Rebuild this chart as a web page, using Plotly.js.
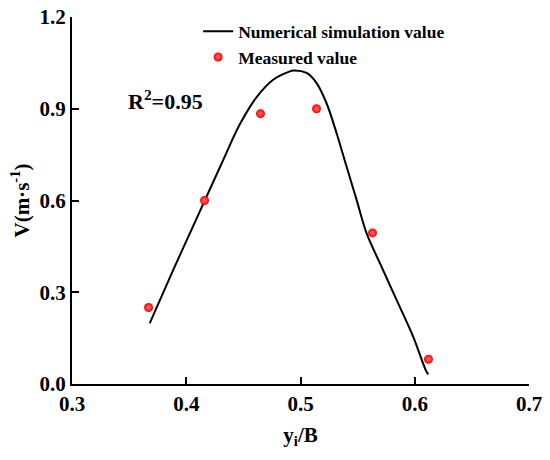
<!DOCTYPE html>
<html>
<head>
<meta charset="utf-8">
<script src="https://cdn.plot.ly/plotly-3.0.1.min.js"></script>
<style>html,body{margin:0;padding:0;background:#fff;}#chart{width:550px;height:460px;}</style>
</head>
<body>
<div id="chart"></div>
<script>
// Numerical simulation curve
const simX = [0.368, 0.3886, 0.4032, 0.4178, 0.4324, 0.4470, 0.4616, 0.4761, 0.4907, 0.4936, 0.5053, 0.5141, 0.5228, 0.5316, 0.5403, 0.5491, 0.5578, 0.5695, 0.5841, 0.5986, 0.6103, 0.612];
const simY = [0.198, 0.373, 0.493, 0.613, 0.733, 0.850, 0.938, 0.995, 1.022, 1.025, 1.017, 0.984, 0.918, 0.820, 0.711, 0.602, 0.493, 0.395, 0.275, 0.155, 0.040, 0.032];
// Measured values
const measX = [0.367, 0.416, 0.465, 0.514, 0.563, 0.612];
const measY = [0.25, 0.60, 0.884, 0.900, 0.494, 0.081];
const xTicks = [0.3, 0.4, 0.5, 0.6, 0.7];
const yTicks = [0.0, 0.3, 0.6, 0.9, 1.2];

const FONT = 'Liberation Serif, Times New Roman, serif';

const traces = [
  {x: simX, y: simY, type: 'scatter', mode: 'lines', name: '<b>Numerical simulation value</b>',
   line: {color: '#000', width: 2, shape: 'spline', smoothing: 1}},
  {x: measX, y: measY, type: 'scatter', mode: 'markers', name: '<b>Measured value</b>',
   marker: {color: '#ff0000', size: 9, gradient: {type: 'radial', color: '#ff7070'}, line: {width: 0}}}
];

const layout = {
  width: 550, height: 460,
  margin: {l: 72, r: 21, t: 17, b: 76},
  paper_bgcolor: '#fff', plot_bgcolor: '#fff',
  font: {family: FONT, color: '#000', size: 18},
  showlegend: true,
  legend: {x: 0.276, y: 1.01, xanchor: 'left', yanchor: 'top', bgcolor: 'rgba(0,0,0,0)',
           font: {family: FONT, size: 17.5, color: '#000'}, tracegroupgap: 0},
  xaxis: {range: [0.3, 0.7], tickvals: xTicks, ticktext: xTicks.map(v => '<b>' + v.toFixed(1) + '</b>'),
          showline: true, linewidth: 2, linecolor: '#000', mirror: false, showgrid: false, zeroline: false,
          ticks: 'inside', ticklen: 7, tickwidth: 2, tickcolor: '#000',
          tickfont: {family: FONT, size: 21, color: '#000'},
          title: {text: '<b>y<sub>i</sub>/B</b>', font: {family: FONT, size: 21, color: '#000'}, standoff: 12}},
  yaxis: {range: [0, 1.2], tickvals: yTicks, ticktext: yTicks.map(v => '<b>' + v.toFixed(1) + '</b>'),
          showline: true, linewidth: 2, linecolor: '#000', mirror: false, showgrid: false, zeroline: false,
          ticks: 'inside', ticklen: 7, tickwidth: 2, tickcolor: '#000',
          tickfont: {family: FONT, size: 21, color: '#000'},
          title: {text: '<b>V(m·s<sup>-1</sup>)</b>', font: {family: FONT, size: 21, color: '#000'}, standoff: 4}},
  annotations: [
    {x: 0.382, y: 0.929, xref: 'x', yref: 'y', text: '<b>R<sup>2</sup>=0.95</b>', showarrow: false,
     font: {family: FONT, size: 22, color: '#000'}}
  ]
};

Plotly.newPlot('chart', traces, layout, {displayModeBar: false, staticPlot: true});
</script>
</body>
</html>
